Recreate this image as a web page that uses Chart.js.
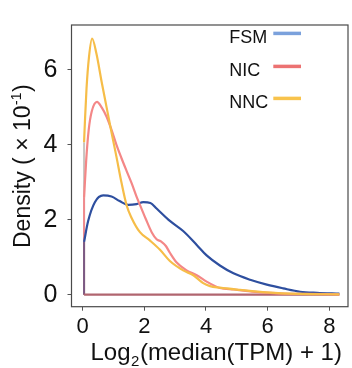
<!DOCTYPE html>
<html><head><meta charset="utf-8">
<script src="https://cdn.jsdelivr.net/npm/chart.js@4"></script>
<style>html,body{margin:0;padding:0;background:#fff;overflow:hidden}</style>
</head><body>
<canvas id="c" width="352" height="368" style="width:352px;height:368px;display:block"></canvas>
<script>
// ---- data ----
const seriesNames = ['FSM', 'NIC', 'NNC'];
const fsmX = [0.05,0.18,0.40,0.67,0.94,1.20,1.48,1.75,1.97,2.20,2.40,2.83,3.26,3.70,4.02,4.45,4.89,5.43,5.97,6.5,7.05,7.6,8.32];
const fsmY = [1.41,1.96,2.47,2.65,2.62,2.50,2.40,2.42,2.47,2.45,2.30,1.97,1.70,1.33,1.05,0.78,0.57,0.40,0.27,0.17,0.08,0.05,0.03];
const nicX = [0.05,0.12,0.20,0.30,0.47,0.62,0.78,0.94,1.10,1.26,1.43,1.59,1.75,1.91,2.05,2.24,2.40,2.55,2.70,2.83,3.05,3.37,3.70,4.02,4.45,4.90,5.21,5.75,6.5,7.3,8.32];
const nicY = [2.59,3.60,4.40,4.90,5.15,5.00,4.75,4.40,4.00,3.65,3.30,2.98,2.62,2.30,2.02,1.67,1.48,1.42,1.30,1.12,0.86,0.65,0.52,0.35,0.18,0.14,0.11,0.06,0.03,0.02,0.01];
const nncX = [0.05,0.08,0.13,0.21,0.31,0.45,0.62,0.78,0.94,1.10,1.26,1.43,1.59,1.86,2.18,2.51,2.83,3.26,3.59,3.91,4.13,4.45,5.10,5.97,7.0,8.32];
const nncY = [4.07,4.66,5.51,6.35,6.84,6.44,5.68,5.00,4.33,3.68,3.00,2.38,2.05,1.67,1.45,1.20,0.90,0.65,0.52,0.31,0.23,0.19,0.13,0.06,0.02,0.01];
const xTicks = [0, 2, 4, 6, 8];
const yTicks = [0, 2, 4, 6];
const xTitle = ['Log', '2', '(median(TPM) + 1)'];
const yTitle = ['Density ( \u00d7 10', '-1', ')'];

// ---- styles ----
const curveColors = ['#2e4f9f', '#f48787', '#f6bd48'];
const legendColors = ['#7ba1dc', '#ec7272', '#f8c34c'];
const edgeColors = ['#7a5a84', '#f08a8e', '#c8c4c0'];
const baseColor = '#b0656f';
const FONT = '"Liberation Sans", Arial, Helvetica, sans-serif';

const xs = [fsmX, nicX, nncX], ys = [fsmY, nicY, nncY];
const pts = (X, Y) => X.map((x, i) => ({x, y: Y[i]}));

const datasets = [];
// left edges (vertical from 0 to first value)
[0, 1, 2].forEach(i => {
  datasets.push({label: seriesNames[i] + '_edge', data: [{x: xs[i][0], y: 0}, {x: xs[i][0], y: ys[i][0]}],
    borderColor: edgeColors[i], borderWidth: 2, pointRadius: 0, tension: 0, order: 6 + i});
});
// baseline
datasets.push({label: 'base', data: [{x: fsmX[0], y: 0}, {x: fsmX[fsmX.length - 1], y: 0}],
  borderColor: baseColor, borderWidth: 2.2, pointRadius: 0, tension: 0, order: 5});
// curves
[0, 1, 2].forEach(i => {
  datasets.push({label: seriesNames[i], data: pts(xs[i], ys[i]), borderColor: curveColors[i],
    borderWidth: 2.2, pointRadius: 0, cubicInterpolationMode: 'monotone', order: 3 - i});
});

const decor = {
  id: 'decor',
  afterDraw(chart) {
    const ctx = chart.ctx, a = chart.chartArea;
    ctx.save();
    // frame
    ctx.strokeStyle = '#4a4a4a';
    ctx.lineWidth = 1.2;
    ctx.strokeRect(a.left, a.top, a.right - a.left, a.bottom - a.top);
    // legend
    ctx.textAlign = 'left';
    ctx.textBaseline = 'alphabetic';
    ctx.font = '18px ' + FONT;
    const base = [42.7, 75.7, 107.7];
    seriesNames.forEach((n, i) => {
      ctx.fillStyle = '#111';
      ctx.fillText(n, 229.3, base[i]);
      ctx.strokeStyle = legendColors[i];
      ctx.lineWidth = 3.5;
      ctx.beginPath();
      ctx.moveTo(273.3, base[i] - 9.3);
      ctx.lineTo(301, base[i] - 9.3);
      ctx.stroke();
    });
    // x title
    ctx.fillStyle = '#111';
    let x = 90.5;
    ctx.font = '24px ' + FONT;
    ctx.fillText(xTitle[0], x, 360);
    x += ctx.measureText(xTitle[0]).width;
    ctx.font = '15px ' + FONT;
    ctx.fillText(xTitle[1], x + 0.5, 366);
    x += ctx.measureText(xTitle[1]).width + 1;
    ctx.font = '24px ' + FONT;
    ctx.fillText(xTitle[2], x, 360);
    // y title
    ctx.save();
    ctx.translate(30, 248);
    ctx.rotate(-Math.PI / 2);
    let y = 0;
    ctx.font = '23px ' + FONT;
    ctx.fillText(yTitle[0], y, 0);
    y += ctx.measureText(yTitle[0]).width;
    ctx.font = '14px ' + FONT;
    ctx.fillText(yTitle[1], y + 0.5, -9);
    y += ctx.measureText(yTitle[1]).width + 1;
    ctx.font = '23px ' + FONT;
    ctx.fillText(yTitle[2], y, 0);
    ctx.restore();
    ctx.restore();
  }
};

new Chart(document.getElementById('c'), {
  type: 'line',
  data: {datasets},
  options: {
    responsive: false,
    devicePixelRatio: 1,
    animation: false,
    layout: {padding: {top: 10, right: 4, left: 0, bottom: 0}},
    plugins: {legend: {display: false}, tooltip: {enabled: false}},
    scales: {
      x: {
        type: 'linear', min: -0.357, max: 8.6,
        afterBuildTicks: s => { s.ticks = xTicks.map(v => ({value: v})); },
        afterFit: s => { s.height = 61.3; },
        grid: {drawOnChartArea: false, drawTicks: true, tickLength: 4, color: '#555', lineWidth: 1},
        border: {display: false},
        ticks: {font: {size: 22, family: FONT}, color: '#111', padding: 3, maxRotation: 0}
      },
      y: {
        type: 'linear', min: -0.32, max: 7.2,
        afterBuildTicks: s => { s.ticks = yTicks.map(v => ({value: v})); },
        afterFit: s => { s.width = 71.5; },
        grid: {drawOnChartArea: false, drawTicks: true, tickLength: 4, color: '#555', lineWidth: 1},
        border: {display: false},
        ticks: {font: {size: 25, family: FONT}, color: '#111', padding: 10}
      }
    }
  },
  plugins: [decor]
});
</script>
</body></html>
